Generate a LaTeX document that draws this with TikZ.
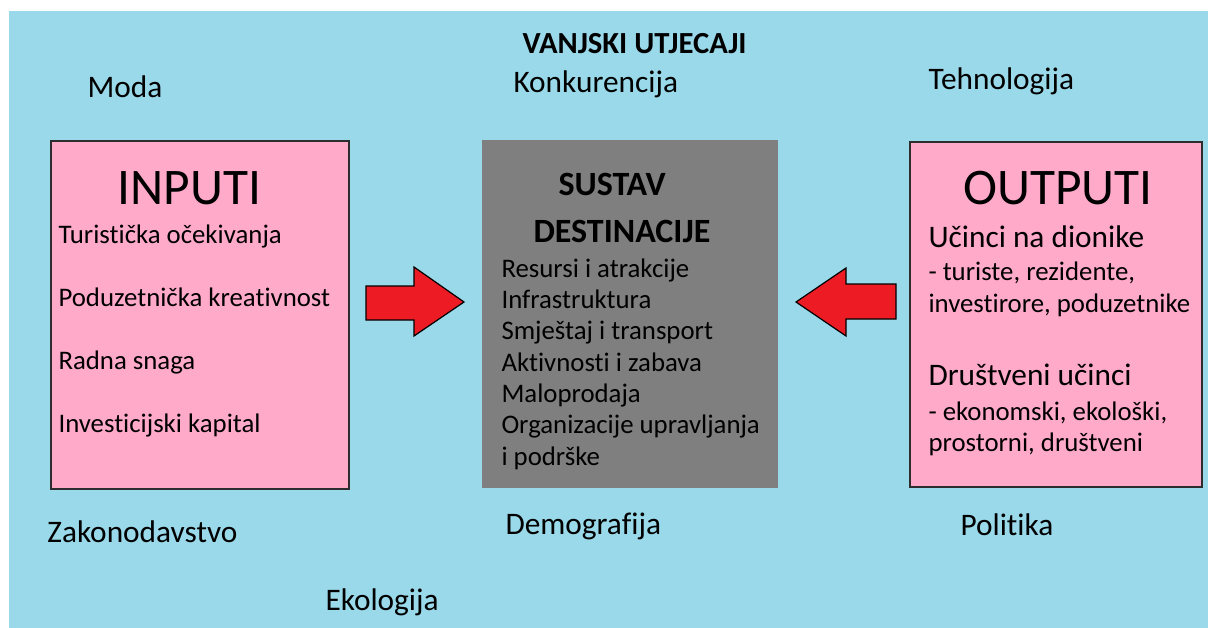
\documentclass[tikz,border=0pt]{standalone}
\usepackage{fontspec}
\setmainfont{Carlito}[RawFeature=-liga]

\definecolor{skyblue}{RGB}{153,217,234}
\definecolor{boxpink}{RGB}{255,170,201}
\definecolor{sysgray}{RGB}{127,127,127}
\definecolor{arrowred}{RGB}{237,28,36}
\definecolor{edgedark}{RGB}{45,45,45}

\tikzset{every picture/.style={line width=0.75pt}}
\tikzset{
  influence/.style={anchor=base west, inner sep=0pt, font=\fontsize{23.5}{28}\selectfont},
  heading/.style={anchor=base west, inner sep=0pt, font=\fontsize{23}{27}\selectfont\bfseries},
  bigtitle/.style={anchor=base west, inner sep=0pt, font=\fontsize{38.5}{44}\selectfont},
  sysline/.style={anchor=base west, inner sep=0pt, font=\fontsize{20.1}{24}\selectfont},
  pinkbox/.style={fill=boxpink, draw=edgedark, line width=1.1pt},
  blockarrow/.style={fill=arrowred, draw=black, line width=0.9pt, line join=miter}
}

\begin{document}
\begin{tikzpicture}[x=0.75pt,y=0.75pt,yscale=-1,xscale=1]
\useasboundingbox (0,0) rectangle (1208,628);
\fill[white] (0,0) rectangle (1208,628);
%Background
\fill[skyblue] (9,11) rectangle (1208,628);

%Boxes
\draw[pinkbox] (51,141) rectangle (349,489);
\fill[sysgray] (482,140) rectangle (778,488);
\draw[pinkbox] (910,142) rectangle (1202,487);

%Arrows
\draw[blockarrow] (366,286) -- (414,286) -- (414,267) -- (464,302) -- (414,336) -- (414,320) -- (366,320) -- cycle;
\draw[blockarrow] (896,284) -- (846,284) -- (846,268) -- (796,302) -- (846,336) -- (846,319) -- (896,319) -- cycle;

% Text Node
\node[heading] (vanjski) at (522,53) {VANJSKI UTJECAJI};
% Text Node
\node[influence] (moda) at (87,97) {Moda};
% Text Node
\node[influence] (konkurencija) at (513,92) {Konkurencija};
% Text Node
\node[influence] (tehnologija) at (928,89) {Tehnologija};
% Text Node
\node[influence] (zakonodavstvo) at (47,542) {Zakonodavstvo};
% Text Node
\node[influence] (demografija) at (505,534) {Demografija};
% Text Node
\node[influence] (politika) at (960,535) {Politika};
% Text Node
\node[influence] (ekologija) at (325,610) {Ekologija};

% Text Node
\node[bigtitle] (inputi) at (117,204) {INPUTI};
\node[sysline] (in1) at (58,243) {Turistička očekivanja};
\node[sysline] (in2) at (58,306) {Poduzetnička kreativnost};
\node[sysline] (in3) at (58,369) {Radna snaga};
\node[sysline] (in4) at (58,432) {Investicijski kapital};

% Text Node
\node[heading, font=\fontsize{25.5}{30}\selectfont\bfseries] (sustav) at (558,195) {SUSTAV};
\node[heading, font=\fontsize{25.5}{30}\selectfont\bfseries] (destinacije) at (533,242) {DESTINACIJE};
\node[sysline] (sys1) at (501,277) {Resursi i atrakcije};
\node[sysline] (sys2) at (501,308) {Infrastruktura};
\node[sysline] (sys3) at (501,339.5) {Smještaj i transport};
\node[sysline] (sys4) at (501,371) {Aktivnosti i zabava};
\node[sysline] (sys5) at (501,402) {Maloprodaja};
\node[sysline] (sys6) at (501,433.5) {Organizacije upravljanja};
\node[sysline] (sys7) at (501,465) {i podrške};

% Text Node
\node[bigtitle] (outputi) at (963,204) {OUTPUTI};
\node[influence] (out1) at (928,247) {Učinci na dionike};
\node[sysline] (out2) at (928,280) {- turiste, rezidente,};
\node[sysline] (out3) at (928,312) {investirore, poduzetnike};
\node[influence] (out4) at (928,385) {Društveni učinci};
\node[sysline] (out5) at (928,420) {- ekonomski, ekološki,};
\node[sysline] (out6) at (928,451) {prostorni, društveni};

\end{tikzpicture}
\end{document}
